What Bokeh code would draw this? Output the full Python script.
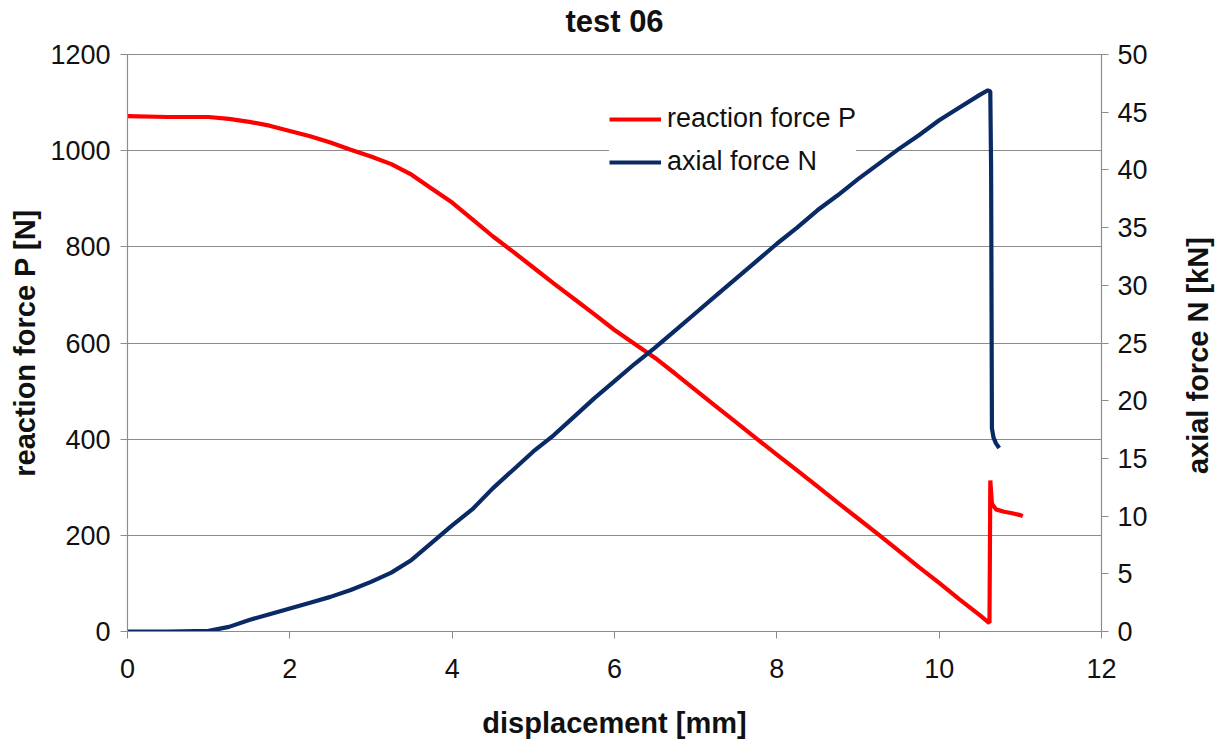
import math
from bokeh.plotting import figure
from bokeh.layouts import column, row
from bokeh.models import (Range1d, LinearAxis, SingleIntervalTicker, Legend,
                          LegendItem)
from bokeh.core.properties import value
from bokeh.embed import file_html
from bokeh.resources import INLINE

# displacement [mm] and reaction force P [N]
disp_p = [0.0, 0.5, 1.0, 1.25, 1.5, 1.75, 2.0, 2.25, 2.5, 2.75, 3.0, 3.25,
          3.5, 3.75, 4.0, 4.25, 4.5, 4.75, 5.0, 5.25, 5.5, 5.75, 6.0, 6.25,
          6.5, 6.75, 7.0, 7.25, 7.5, 7.75, 8.0, 8.25, 8.5, 8.75, 9.0, 9.25,
          9.5, 9.75, 10.0, 10.25, 10.5, 10.6, 10.62, 10.63, 10.65, 10.7,
          10.8, 10.9, 11.0, 11.03]
force_p = [1072, 1070, 1070, 1066, 1060, 1052, 1041, 1030, 1017, 1002, 988,
           972, 950, 921, 892, 857, 822, 790, 757, 724, 692, 660, 627, 598,
           569, 536, 502, 468, 435, 401, 368, 335, 302, 268, 235, 202, 168,
           134, 101, 67, 34, 20, 18, 314, 266, 254, 249, 246, 242, 240]

# displacement [mm] and axial force N [kN]
disp_n = [0.0, 0.5, 1.0, 1.25, 1.5, 1.75, 2.0, 2.25, 2.5, 2.75, 3.0, 3.25,
          3.5, 3.75, 4.0, 4.25, 4.5, 4.75, 5.0, 5.25, 5.5, 5.75, 6.0, 6.25,
          6.5, 6.75, 7.0, 7.25, 7.5, 7.75, 8.0, 8.25, 8.5, 8.75, 9.0, 9.25,
          9.5, 9.75, 10.0, 10.25, 10.5, 10.6, 10.63, 10.64, 10.65, 10.67,
          10.7, 10.74]
force_n = [0.0, 0.0, 0.05, 0.4, 1.0, 1.5, 2.0, 2.5, 3.0, 3.6, 4.3, 5.1, 6.2,
           7.7, 9.2, 10.6, 12.4, 14.0, 15.6, 17.0, 18.6, 20.2, 21.7, 23.2,
           24.6, 26.1, 27.6, 29.1, 30.6, 32.1, 33.6, 35.0, 36.5, 37.8, 39.2,
           40.5, 41.8, 43.0, 44.3, 45.4, 46.5, 46.9, 46.8, 40.0, 17.6, 16.8,
           16.3, 15.9]

x_ticks_step = 2
p_ticks_step = 200
n_ticks_step = 5

title_text = "test 06"
right_label = "axial force N [kN]"

FONT = "Liberation Sans"
GREY = "#8c8c8c"
TXT = "#111111"

W, H = 1218, 749
TITLE_H = 40      # strip holding the chart title
SIDE_W = 38       # strip holding the right-hand axis title
MAIN_W = W - SIDE_W
MAIN_H = H - TITLE_H


def text_strip(width, height):
    """Blank strip in pixel coordinates (y grows downwards) for a text."""
    f = figure(width=width, height=height, output_backend="svg",
               toolbar_location=None, x_axis_type=None, y_axis_type=None,
               x_range=Range1d(0, width), y_range=Range1d(height, 0),
               min_border=0, outline_line_color=None,
               background_fill_color="white", border_fill_color="white")
    f.grid.visible = False
    return f


# ---- title strip
top = text_strip(W, TITLE_H)
top.text(x=[127 + (MAIN_W - 127 - 79) / 2], y=[21], text=[title_text],
         text_align="center", text_baseline="middle",
         text_font=value(FONT), text_font_size="31px",
         text_font_style="bold", text_color=TXT)

# ---- main chart
fig = figure(width=MAIN_W, height=MAIN_H, output_backend="svg",
             toolbar_location=None, x_range=Range1d(0, 12),
             y_range=Range1d(0, 1200), min_border_left=127,
             min_border_right=79, min_border_top=14, min_border_bottom=118,
             background_fill_color="white", border_fill_color="white",
             outline_line_color=GREY)
fig.extra_y_ranges = {"n": Range1d(0, 50)}

fig.xgrid.visible = False
fig.ygrid.grid_line_color = GREY
fig.ygrid.grid_line_width = 1
fig.ygrid.ticker = SingleIntervalTicker(interval=p_ticks_step)

right_axis = LinearAxis(y_range_name="n",
                        ticker=SingleIntervalTicker(interval=n_ticks_step))
fig.add_layout(right_axis, "right")

fig.xaxis.ticker = SingleIntervalTicker(interval=x_ticks_step)
fig.yaxis[0].ticker = SingleIntervalTicker(interval=p_ticks_step)
fig.xaxis.axis_label = "displacement [mm]"
fig.yaxis[0].axis_label = "reaction force P [N]"

for ax in [fig.xaxis[0], fig.yaxis[0], right_axis]:
    ax.axis_line_color = GREY
    ax.axis_line_width = 1.2
    ax.major_tick_line_color = GREY
    ax.major_tick_in = 0
    ax.major_tick_out = 7
    ax.minor_tick_line_color = None
    ax.major_label_text_font = FONT
    ax.major_label_text_font_size = "27px"
    ax.major_label_text_color = TXT
    ax.axis_label_text_font = FONT
    ax.axis_label_text_font_size = "29px"
    ax.axis_label_text_font_style = "bold"
    ax.axis_label_text_color = TXT

fig.yaxis[0].major_label_standoff = 10
fig.yaxis[0].axis_label_standoff = 6
right_axis.major_label_standoff = 9
fig.xaxis.major_label_standoff = 20
fig.xaxis.axis_label_standoff = 26

red = fig.line(disp_p, force_p, line_color="#ff0000", line_width=4.2)
blue = fig.line(disp_n, force_n, y_range_name="n", line_color="#0a2a66",
                line_width=4.2)

legend = Legend(items=[LegendItem(label="reaction force P", renderers=[red]),
                       LegendItem(label="axial force N", renderers=[blue])],
                location=(482, 454), margin=0, padding=6, spacing=12,
                glyph_width=52, glyph_height=30, label_height=30,
                label_standoff=6, label_text_font=FONT,
                label_text_font_size="27px", label_text_color=TXT,
                background_fill_color="white", background_fill_alpha=1.0,
                border_line_color=None)
fig.add_layout(legend, "center")

# ---- right-hand axis title, reading bottom to top
side = text_strip(SIDE_W, MAIN_H)
side.text(x=[17], y=[370], text=[right_label], angle=math.pi / 2,
          text_align="center", text_baseline="middle",
          text_font=value(FONT), text_font_size="29px",
          text_font_style="bold", text_color=TXT)

p = column(top, row(fig, side, spacing=0), spacing=0)

open("out.html", "w").write(file_html(p, INLINE))
